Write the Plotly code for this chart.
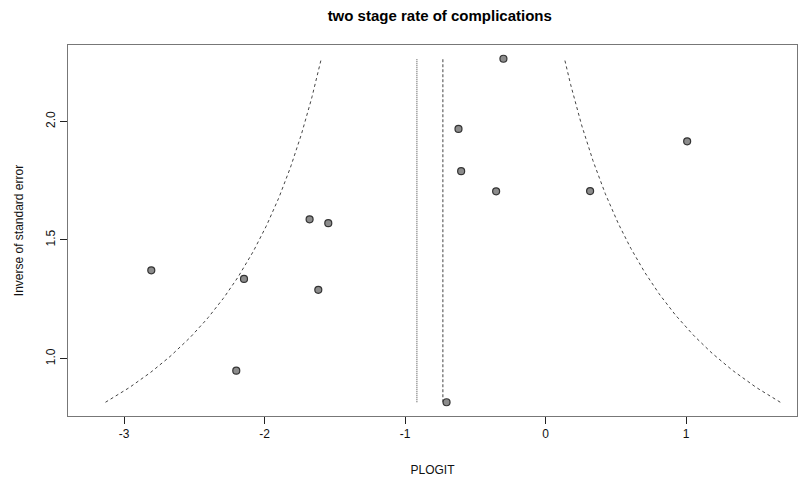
import numpy as np
import plotly.graph_objects as go

# Study estimates (PLOGIT) and inverse of standard error
plogit = [-0.300, -0.620, -0.601, -0.352, 1.008, 0.317, -1.680, -1.547,
          -2.807, -2.147, -1.618, -2.202, -0.705]
inv_se = [2.264, 1.968, 1.790, 1.705, 1.916, 1.706, 1.587, 1.571,
          1.372, 1.336, 1.290, 0.949, 0.816]

fixed_effect = -0.731    # dashed vertical line / funnel centre
random_effect = -0.916   # dotted vertical line
z = 1.96

x_ticks = [-3, -2, -1, 0, 1]
y_ticks = [1.0, 1.5, 2.0]

ymin, ymax = min(inv_se), max(inv_se)
yy = np.linspace(ymin, ymax, 200)
left = fixed_effect - z / yy
right = fixed_effect + z / yy

line_col = "#444444"
fig = go.Figure()
fig.add_trace(go.Scatter(x=left, y=yy, mode="lines",
                         line=dict(color=line_col, width=1, dash="3px,3px"),
                         hoverinfo="skip"))
fig.add_trace(go.Scatter(x=right, y=yy, mode="lines",
                         line=dict(color=line_col, width=1, dash="3px,3px"),
                         hoverinfo="skip"))
fig.add_trace(go.Scatter(x=[fixed_effect, fixed_effect], y=[ymin, ymax], mode="lines",
                         line=dict(color=line_col, width=1, dash="3px,2px")))
fig.add_trace(go.Scatter(x=[random_effect, random_effect], y=[ymin, ymax], mode="lines",
                         line=dict(color=line_col, width=1, dash="1px,1px")))
fig.add_trace(go.Scatter(x=plogit, y=inv_se, mode="markers",
                         marker=dict(size=7, color="#8c8c8c",
                                     line=dict(color="#333333", width=1.2))))

font = "Liberation Sans, Arial, Helvetica, sans-serif"
fig.update_layout(
    width=801, height=483,
    margin=dict(l=68, r=4, t=45, b=67),
    paper_bgcolor="white", plot_bgcolor="white",
    showlegend=False,
    font=dict(family=font, size=12, color="#111111"),
    title=dict(text="<b>two stage rate of complications</b>", x=0.549, xanchor="center",
               y=0.968, yanchor="middle", font=dict(size=15, family=font, color="#000")),
    xaxis=dict(range=[-3.40, 1.79], tickvals=x_ticks, ticktext=[str(v) for v in x_ticks],
               showgrid=False, zeroline=False, showline=True, mirror=True,
               linecolor="#777777", linewidth=1,
               ticks="outside", ticklen=7, tickcolor="#222222",
               title=dict(text="PLOGIT", standoff=25, font=dict(size=12))),
    yaxis=dict(range=[0.758, 2.322], tickvals=y_ticks, ticktext=["1.0", "1.5", "2.0"],
               tickangle=-90,
               showgrid=False, zeroline=False, showline=True, mirror=True,
               linecolor="#777777", linewidth=1,
               ticks="outside", ticklen=7, tickcolor="#222222",
               title=dict(text="Inverse of standard error", standoff=18, font=dict(size=12))),
)
fig.write_html("out.html")
